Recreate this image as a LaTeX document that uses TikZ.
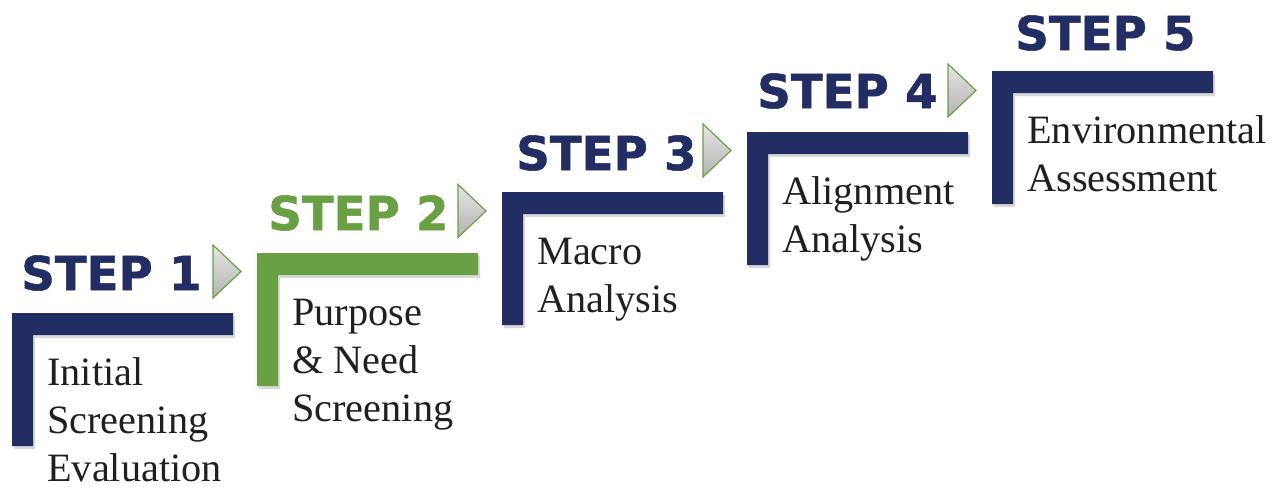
\documentclass[tikz,border=0pt]{standalone}
\usepackage{fontspec}
\setmainfont{Liberation Serif}
\newfontfamily\stepfont{DejaVu Sans}[FakeBold=1.2]
\definecolor{stepnavy}{RGB}{33,45,99}
\definecolor{stepgreen}{RGB}{106,160,68}
\definecolor{textgray}{RGB}{35,31,32}

\begin{document}
\begin{tikzpicture}[x=0.75pt,y=-0.75pt,
  bracket/.style={fill=#1},
  bracketshadow/.style={fill=black,opacity=0.15},
  steplabel/.style={anchor=base west,inner sep=0pt,text=#1,
    font=\stepfont\bfseries\fontsize{35}{35}\selectfont},
  steptext/.style={anchor=base west,inner sep=0pt,align=left,text=textgray,
    font=\fontsize{30.2}{36}\selectfont},
  arrowhead/.style={draw=stepgreen,line width=0.9pt,top color=gray!20,bottom color=gray!60}]
  \useasboundingbox (0,0) rectangle (1283,487);

  % step 1
  \fill[bracketshadow] (14,316) -- ++(221,0) -- ++(0,22) -- ++(-200,0) -- ++(0,111) -- ++(-21,0) -- cycle;
  \fill[bracket=stepnavy] (12,313) -- ++(221,0) -- ++(0,22) -- ++(-200,0) -- ++(0,111) -- ++(-21,0) -- cycle;
  \node[steplabel=stepnavy] (step1) at (21,290) {STEP 1};
  \node[steptext] (text1) at (47,481) {Initial\\Screening\\Evaluation};
  \draw[arrowhead] (213,245) -- (241,271.5) -- (213,298) -- cycle;

  % step 2
  \fill[bracketshadow] (259,256) -- ++(221,0) -- ++(0,22) -- ++(-200,0) -- ++(0,111) -- ++(-21,0) -- cycle;
  \fill[bracket=stepgreen] (257,253) -- ++(221,0) -- ++(0,22) -- ++(-200,0) -- ++(0,111) -- ++(-21,0) -- cycle;
  \node[steplabel=stepgreen] (step2) at (268,230) {STEP 2};
  \node[steptext] (text2) at (292,421) {Purpose\\\& Need\\Screening};
  \draw[arrowhead] (458,184.5) -- (486,211) -- (458,237.5) -- cycle;

  % step 3
  \fill[bracketshadow] (504,195) -- ++(221,0) -- ++(0,22) -- ++(-200,0) -- ++(0,111) -- ++(-21,0) -- cycle;
  \fill[bracket=stepnavy] (502,192) -- ++(221,0) -- ++(0,22) -- ++(-200,0) -- ++(0,111) -- ++(-21,0) -- cycle;
  \node[steplabel=stepnavy] (step3) at (516,170) {STEP 3};
  \node[steptext] (text3) at (537,312) {Macro\\Analysis};
  \draw[arrowhead] (703,124) -- (731,150.5) -- (703,177) -- cycle;

  % step 4
  \fill[bracketshadow] (749,135) -- ++(221,0) -- ++(0,22) -- ++(-200,0) -- ++(0,111) -- ++(-21,0) -- cycle;
  \fill[bracket=stepnavy] (747,132) -- ++(221,0) -- ++(0,22) -- ++(-200,0) -- ++(0,111) -- ++(-21,0) -- cycle;
  \node[steplabel=stepnavy] (step4) at (757,108) {STEP 4};
  \node[steptext] (text4) at (782,252) {Alignment\\Analysis};
  \draw[arrowhead] (948,64) -- (976,90.5) -- (948,117) -- cycle;

  % step 5
  \fill[bracketshadow] (994,74) -- ++(221,0) -- ++(0,22) -- ++(-200,0) -- ++(0,111) -- ++(-21,0) -- cycle;
  \fill[bracket=stepnavy] (992,71) -- ++(221,0) -- ++(0,22) -- ++(-200,0) -- ++(0,111) -- ++(-21,0) -- cycle;
  \node[steplabel=stepnavy] (step5) at (1015,50) {STEP 5};
  \node[steptext] (text5) at (1027,191) {Environmental\\Assessment};
\end{tikzpicture}
\end{document}
